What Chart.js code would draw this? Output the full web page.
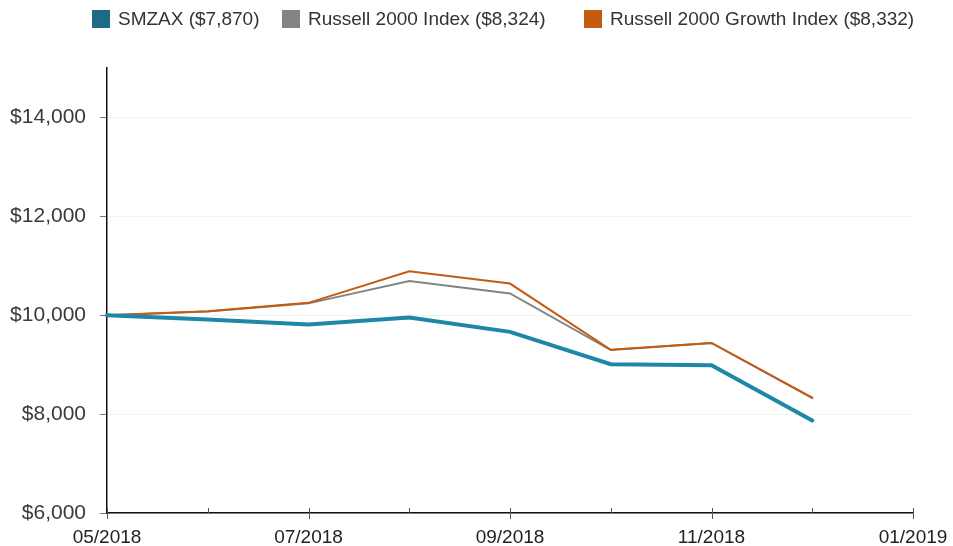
<!DOCTYPE html>
<html>
<head>
<meta charset="utf-8">
<script src="https://cdn.jsdelivr.net/npm/chart.js@4"></script>
<style>
  html, body { margin: 0; padding: 0; background: #fff; }
  #wrap { position: relative; width: 953px; height: 546px; }
  #legend { position: absolute; top: 8px; left: 0; width: 953px; height: 26px; font-family: 'Liberation Sans', Arial, sans-serif; font-size: 19px; color: #333; white-space: nowrap; }
  #legend span.item { position: absolute; top: 0; display: flex; align-items: center; }
  #legend span.box { width: 18px; height: 18px; margin-right: 8px; display: inline-block; }
</style>
</head>
<body>
<div id="wrap">
  <canvas id="chart" width="953" height="546"></canvas>
  <div id="legend"></div>
</div>
<script>
// ── Data ─────────────────────────────────────────────────────────────
const months   = ['05/2018','06/2018','07/2018','08/2018','09/2018','10/2018','11/2018','12/2018','01/2019'];
const smzax    = [10000, 9913, 9812, 9953, 9663, 9010, 8990, 7870];
const russell  = [10000, 10075, 10240, 10690, 10440, 9295, 9440, 8324];
const growth   = [10000, 10081, 10250, 10890, 10640, 9300, 9440, 8332];
const legendLabels = ['SMZAX ($7,870)', 'Russell 2000 Index ($8,324)', 'Russell 2000 Growth Index ($8,332)'];
const yTicks   = [6000, 8000, 10000, 12000, 14000];

const C = {
  teal:    '#1f87a6',
  tealBox: '#1e6b86',
  gray:    '#848484',
  orange:  '#c55a11',
  axis:    '#111',
  grid:    '#f2f2f2',
  text:    '#3a3a3a',
  font:    "'Liberation Sans', Arial, sans-serif"
};

// HTML legend
const legendColors = [C.tealBox, C.gray, C.orange];
const legendLeft   = [92, 282, 584];
document.getElementById('legend').innerHTML = legendLabels.map((t, i) =>
  `<span class="item" style="left:${legendLeft[i]}px"><span class="box" style="background:${legendColors[i]}"></span>${t}</span>`
).join('');

// Month tick marks on x axis: labelled months cross the axis, others sit above it
const monthTicks = {
  id: 'monthTicks',
  afterDraw(chart) {
    const x = chart.scales.x, ctx = chart.ctx, y0 = chart.chartArea.bottom;
    ctx.save();
    ctx.strokeStyle = '#555';
    ctx.lineWidth = 1;
    months.forEach((m, i) => {
      const px = Math.round(x.getPixelForValue(i)) + 0.5;
      ctx.beginPath();
      ctx.moveTo(px, y0 - 5);
      ctx.lineTo(px, i % 2 === 0 ? y0 + 6 : y0);
      ctx.stroke();
    });
    ctx.restore();
  }
};

new Chart(document.getElementById('chart'), {
  type: 'line',
  data: {
    labels: months,
    datasets: [
      { label: legendLabels[2], data: growth,  borderColor: C.orange, borderWidth: 2, order: 2 },
      { label: legendLabels[1], data: russell, borderColor: C.gray,   borderWidth: 2, order: 3 },
      { label: legendLabels[0], data: smzax,   borderColor: C.teal,   borderWidth: 4, order: 1 }
    ]
  },
  options: {
    responsive: false,
    animation: false,
    layout: { padding: { top: 68, right: 40, left: 0, bottom: 0 } },
    elements: { point: { radius: 0 }, line: { tension: 0, borderCapStyle: 'round' } },
    plugins: { legend: { display: false }, tooltip: { enabled: false } },
    scales: {
      x: {
        type: 'category',
        offset: false,
        afterFit: s => { s.height = 33; s.paddingLeft = 0; s.paddingRight = 0; },
        grid: { display: false, drawTicks: false },
        border: { display: true, color: C.axis, width: 1.5 },
        ticks: {
          autoSkip: false, maxRotation: 0, padding: 13,
          color: '#222', font: { family: C.font, size: 19 },
          callback: (v, i) => i % 2 === 0 ? months[i] : ''
        }
      },
      y: {
        min: 6000, max: 15000,
        afterBuildTicks: s => { s.ticks = yTicks.map(v => ({ value: v })); },
        afterFit: s => { s.width = 107; },
        grid: { color: C.grid, tickColor: '#777', tickLength: 7, drawTicks: true },
        border: { display: true, color: C.axis, width: 1.5 },
        ticks: {
          padding: 14, color: C.text, font: { family: C.font, size: 21 },
          callback: v => '$' + v.toLocaleString('en-US')
        }
      }
    }
  },
  plugins: [monthTicks]
});
</script>
</body>
</html>
